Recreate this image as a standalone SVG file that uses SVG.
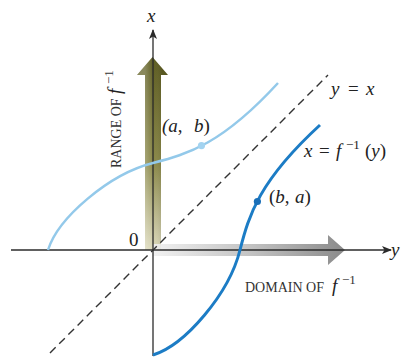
<svg xmlns="http://www.w3.org/2000/svg" width="401" height="360" viewBox="0 0 401 360">
<defs>
<style>
.axis{stroke:#2b2b2b;stroke-width:1.3;fill:none}
.dash{stroke:#333;stroke-width:1.4;stroke-dasharray:8 5;fill:none}
.m{font-family:"Liberation Serif","Times New Roman",serif;font-size:19px;fill:#222}
.i{font-style:italic}
.cap{font-family:"Liberation Serif","Times New Roman",serif;font-size:14px;fill:#333}
.sup{font-size:13px}
</style>
<marker id="ah" viewBox="0 0 10 8" refX="9" refY="4" markerWidth="10" markerHeight="8" markerUnits="userSpaceOnUse" orient="auto">
<path d="M0,0 L10,4 L0,8 L2.5,4 Z" fill="#2b2b2b"/>
</marker>
<linearGradient id="olive" x1="0" y1="57" x2="0" y2="250" gradientUnits="userSpaceOnUse">
<stop offset="0" stop-color="#5c5b20"/>
<stop offset="0.55" stop-color="#8a8848"/>
<stop offset="1" stop-color="#dcd9bb"/>
</linearGradient>
<linearGradient id="olive2" x1="145" y1="0" x2="162" y2="0" gradientUnits="userSpaceOnUse">
<stop offset="0" stop-color="#ffffff" stop-opacity="0.25"/>
<stop offset="0.5" stop-color="#ffffff" stop-opacity="0"/>
<stop offset="1" stop-color="#000000" stop-opacity="0.1"/>
</linearGradient>
<linearGradient id="gray" x1="153" y1="0" x2="345" y2="0" gradientUnits="userSpaceOnUse">
<stop offset="0" stop-color="#f0f0f0"/>
<stop offset="0.5" stop-color="#bdbdbd"/>
<stop offset="1" stop-color="#7d7d7d"/>
</linearGradient>
<path id="fcurve" d="M48,250 C58,218 109,174 153,163 C188,154 222,144 278,83"/>
</defs>
<rect width="401" height="360" fill="#ffffff"/>

<g id="range-arrow">
<path d="M145,250 L145,75 L137,75 L152.5,57 L168,75 L161,75 L161,250 Z" fill="url(#olive)"/>
<path d="M145,250 L145,75 L137,75 L152.5,57 L168,75 L161,75 L161,250 Z" fill="url(#olive2)"/>
</g>
<g id="domain-arrow">
<path d="M153,244 L328,244 L328,235 L345,250 L328,265 L328,256 L153,256 Z" fill="url(#gray)" opacity="0.9"/>
</g>

<g id="connectors">
<line id="x-axis" class="axis" x1="11" y1="250" x2="391" y2="250" marker-end="url(#ah)"/>
<line id="y-axis" class="axis" x1="153" y1="356" x2="153" y2="30" marker-end="url(#ah)"/>
<line id="line-y-eq-x" class="dash" x1="50" y1="353" x2="328" y2="75"/>
</g>

<g id="curve-f">
<use href="#fcurve" fill="none" stroke="#93c9ea" stroke-width="2.5"/>
</g>
<g id="curve-finv">
<use href="#fcurve" fill="none" stroke="#1c7cc5" stroke-width="3" transform="matrix(0,-1,-1,0,403,403)"/>
</g>

<g id="point-ab">
<circle cx="201.5" cy="145.6" r="3.6" fill="#a3d3f0"/>
<text class="m" x="162" y="132"><tspan class="i">(a</tspan><tspan>,</tspan><tspan class="i" x="194">b</tspan><tspan>)</tspan></text>
</g>
<g id="point-ba">
<circle cx="257.4" cy="201.5" r="3.6" fill="#1a6fb8"/>
<text class="m" x="269" y="203"><tspan>(</tspan><tspan class="i">b</tspan><tspan>,</tspan><tspan class="i" x="295">a</tspan><tspan>)</tspan></text>
</g>

<g id="labels">
<text class="m i" x="147" y="22">x</text>
<text class="m" x="129" y="246">0</text>
<text class="m i" x="391" y="256">y</text>
<text class="m" y="95"><tspan class="i" x="331">y</tspan><tspan x="348">=</tspan><tspan class="i" x="366">x</tspan></text>
<text class="m" y="157"><tspan class="i" x="304">x</tspan><tspan x="319">=</tspan><tspan class="i" x="336">f</tspan><tspan class="sup" x="346" dy="-8">−1</tspan><tspan x="365" dy="8">(</tspan><tspan class="i">y</tspan><tspan>)</tspan></text>
<text class="cap" x="245" y="292">DOMAIN OF <tspan class="m i" x="332">f</tspan><tspan class="sup" x="342" dy="-8">−1</tspan></text>
<text class="cap" transform="translate(121,168) rotate(-90)" x="0" y="0">RANGE OF <tspan class="m i" x="74">f</tspan><tspan class="sup" x="84" dy="-8">−1</tspan></text>
</g>
</svg>
